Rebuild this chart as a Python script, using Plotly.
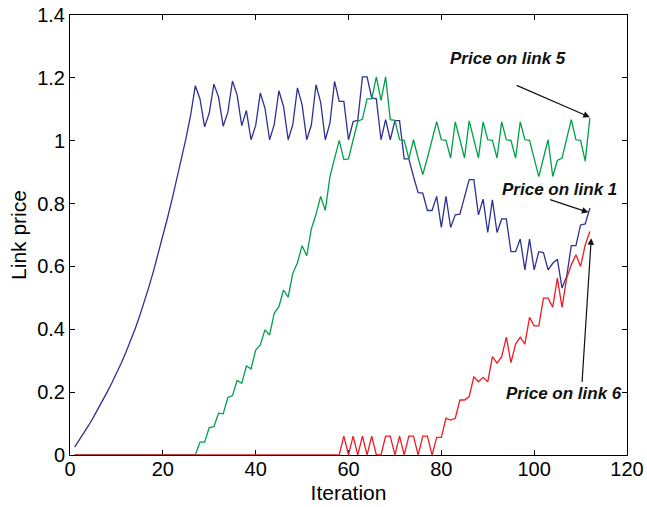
import plotly.graph_objects as go

# ---------------- data ----------------
iterations = list(range(1, 113))

# Price on link 1 (blue)
blue_values = [
    0.025, 0.047, 0.070, 0.094, 0.119, 0.145, 0.172, 0.200, 0.229, 0.259,
    0.291, 0.325, 0.361, 0.400, 0.442, 0.487, 0.535, 0.586, 0.640, 0.696,
    0.754, 0.814, 0.876, 0.940, 1.008, 1.082, 1.175, 1.133, 1.044, 1.088,
    1.18, 1.139, 1.046, 1.09, 1.19, 1.146, 1.048, 1.096, 1.003, 1.048,
    1.152, 1.104, 1.003, 1.051, 1.159, 1.109, 1.003, 1.051, 1.168, 1.115,
    1.003, 1.05, 1.178, 1.122, 1.003, 1.056, 1.189, 1.125, 1.125, 1.003,
    1.061, 1.065, 1.203, 1.203, 1.136, 1.133, 1.003, 1.067, 1.003, 1.064,
    1.064, 0.942, 0.942, 0.886, 0.835, 0.833, 0.778, 0.778, 0.823, 0.724,
    0.823, 0.724, 0.764, 0.766, 0.823, 0.876, 0.876, 0.764, 0.814, 0.708,
    0.812, 0.708, 0.751, 0.751, 0.647, 0.647, 0.687, 0.589, 0.687, 0.589,
    0.647, 0.644, 0.589, 0.61, 0.623, 0.531, 0.568, 0.666, 0.666, 0.732,
    0.735, 0.786,
]

# Price on link 5 (green)
green_values = [0.0] * 26 + [
    0.0, 0.041, 0.041, 0.087, 0.09, 0.133, 0.131, 0.183, 0.189, 0.237,
    0.228, 0.283, 0.274, 0.334, 0.35, 0.398, 0.382, 0.451, 0.472, 0.525,
    0.502, 0.578, 0.612, 0.666, 0.634, 0.72, 0.765, 0.823, 0.778, 0.886,
    0.94, 1.001, 0.94, 0.942, 1.003, 1.061, 1.069, 1.133, 1.133, 1.203,
    1.128, 1.203, 1.067, 1.065, 1.003, 1.001, 0.942, 1.003, 0.945, 0.892,
    0.945, 1.003, 1.061, 1.003, 1.001, 0.945, 1.06, 1.003, 0.945, 1.063,
    1.003, 0.945, 1.06, 1.003, 1.001, 0.945, 1.06, 1.003, 1.001, 0.945,
    1.06, 1.003, 1.001, 0.945, 0.886, 0.945, 1.003, 0.886, 0.937, 0.945,
    1.003, 1.067, 1.003, 1.001, 0.935, 1.072,
]

# Price on link 6 (red)
red_values = [0.0] * 57 + [
    0.0, 0.06, 0.0, 0.06, 0.0, 0.06, 0.0, 0.06, 0.0, 0.0,
    0.06, 0.06, 0.0, 0.06, 0.0, 0.06, 0.06, 0.0, 0.06, 0.06,
    0.0, 0.056, 0.056, 0.117, 0.111, 0.117, 0.175, 0.175, 0.186, 0.249,
    0.233, 0.247, 0.233, 0.313, 0.292, 0.313, 0.375, 0.294, 0.353, 0.375,
    0.353, 0.438, 0.411, 0.411, 0.499, 0.499, 0.47, 0.563, 0.47, 0.563,
    0.605, 0.637, 0.6, 0.669, 0.711,
]

x_tick_vals = [0, 20, 40, 60, 80, 100, 120]
y_tick_vals = [0, 0.2, 0.4, 0.6, 0.8, 1.0, 1.2, 1.4]
y_tick_text = ["0", "0.2", "0.4", "0.6", "0.8", "1", "1.2", "1.4"]

labels = ["Price on link 5", "Price on link 1", "Price on link 6"]
label_pos = [(94.4, 1.261), (105.4, 0.844), (106.5, 0.197)]
arrow_tail = [(95.9, 1.178), (103.1, 0.814), (110.3, 0.228)]
arrow_tip = [(112.0, 1.075), (111.7, 0.772), (112.3, 0.69)]

BLUE = "#2e3192"
GREEN = "#00a04b"
RED = "#ee1c24"
FONT = "Liberation Sans"

fig = go.Figure()
fig.add_trace(go.Scatter(x=iterations, y=blue_values, mode="lines",
                         line=dict(color=BLUE, width=1.3)))
fig.add_trace(go.Scatter(x=iterations, y=green_values, mode="lines",
                         line=dict(color=GREEN, width=1.3)))
fig.add_trace(go.Scatter(x=iterations, y=red_values, mode="lines",
                         line=dict(color=RED, width=1.3)))

annotations = []
for txt, (tx, ty) in zip(labels, label_pos):
    annotations.append(dict(x=tx, y=ty, xref="x", yref="y", text="<b><i>" + txt + "</i></b>",
                            showarrow=False, font=dict(family=FONT, size=17, color="#111")))
for (ax_, ay_), (x_, y_) in zip(arrow_tail, arrow_tip):
    annotations.append(dict(x=x_, y=y_, xref="x", yref="y", ax=ax_, ay=ay_, axref="x", ayref="y",
                            text="", showarrow=True, arrowhead=2, arrowsize=1.1, arrowwidth=1.2,
                            arrowcolor="#111", standoff=0, startstandoff=0))

axis_common = dict(showline=True, linecolor="black", linewidth=1, mirror="ticks",
                   ticks="inside", ticklen=5, tickcolor="black", tickwidth=1,
                   showgrid=False, zeroline=False, layer="below traces", automargin=False,
                   ticklabeloverflow="allow",
                   tickfont=dict(family=FONT, size=20, color="black"))

fig.update_layout(
    width=647, height=507,
    margin=dict(l=70, r=20, t=15, b=52),
    paper_bgcolor="white", plot_bgcolor="white",
    showlegend=False,
    annotations=annotations,
    xaxis=dict(range=[0, 120], tickvals=x_tick_vals, ticklabelstandoff=-4,
               title=dict(text="Iteration", font=dict(family=FONT, size=21, color="black"), standoff=6),
               **axis_common),
    yaxis=dict(range=[0, 1.4], tickvals=y_tick_vals, ticktext=y_tick_text,
               title=dict(text="Link price", font=dict(family=FONT, size=21, color="black"), standoff=4),
               **axis_common),
)

# remove the default page margin so the figure fills the window exactly
fig.write_html("out.html",
               config={"displayModeBar": False},
               post_script="document.body.style.margin='0';document.body.style.overflow='hidden';")
